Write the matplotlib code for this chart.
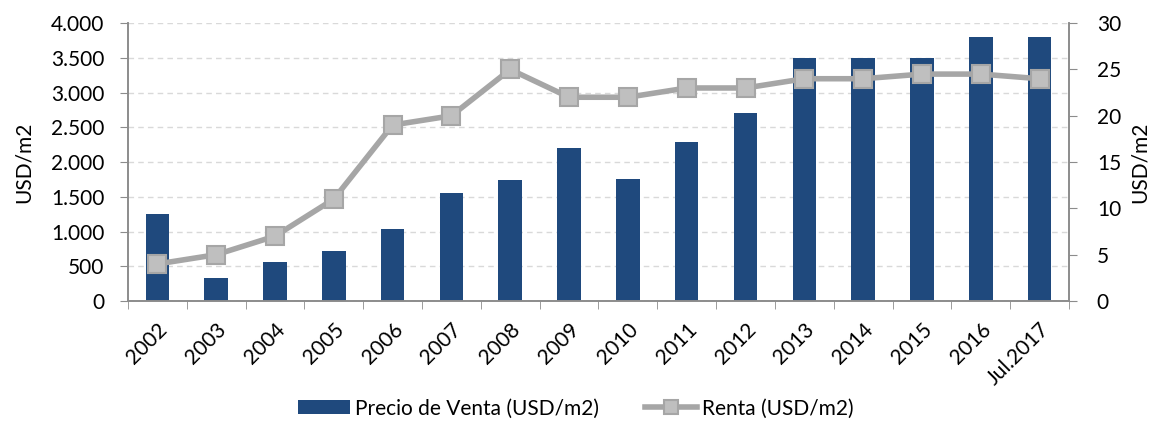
import matplotlib
matplotlib.use("Agg")
import matplotlib.pyplot as plt
from matplotlib.ticker import FuncFormatter, FixedLocator
from matplotlib.transforms import ScaledTranslation
import numpy as np

categories = ["2002", "2003", "2004", "2005", "2006", "2007", "2008", "2009",
              "2010", "2011", "2012", "2013", "2014", "2015", "2016", "Jul.2017"]
precio_venta = [1250, 330, 560, 720, 1040, 1560, 1740, 2200, 1750, 2290, 2700,
                3500, 3500, 3500, 3800, 3800]
renta = [4, 5, 7, 11, 19, 20, 25, 22, 22, 23, 23, 24, 24, 24.5, 24.5, 24]

plt.rcParams['font.family'] = ['Lato', 'DejaVu Sans']
FS = 15

fig = plt.figure(figsize=(11.52, 4.21), dpi=100)
ax = fig.add_axes([0.111, 0.285, 0.817, 0.66])
ax2 = ax.twinx()

x = np.arange(len(categories))
bar_color = "#1F497D"
ax.bar(x, precio_venta, width=0.4, color=bar_color, zorder=2,
       label="Precio de Venta (USD/m2)")
ax2.plot(x, renta, color="#A6A6A6", lw=4, marker="s", markersize=13,
         markerfacecolor="#BFBFBF", markeredgecolor="#A6A6A6", markeredgewidth=1.5,
         zorder=3, label="Renta (USD/m2)")

ax.set_xlim(-0.5, len(categories) - 0.5)
ax.set_ylim(0, 4000)
ax2.set_ylim(0, 30)
ax.set_yticks(np.arange(0, 4001, 500))
ax2.set_yticks(np.arange(0, 31, 5))
ax.yaxis.set_major_formatter(FuncFormatter(lambda v, p: f"{int(v):,}".replace(",", ".")))

ax.grid(axis="y", color="#D9D9D9", linestyle=(0, (4, 3)), lw=1, zorder=0)
ax.set_axisbelow(True)

ax.xaxis.set_major_locator(FixedLocator(x))
ax.set_xticklabels(categories, rotation=45, ha="right", rotation_mode="anchor",
                   fontsize=FS)
shift = ScaledTranslation(-4 / 72, 0, fig.dpi_scale_trans)
for lbl in ax.get_xticklabels():
    lbl.set_transform(lbl.get_transform() + shift)
ax.xaxis.set_minor_locator(FixedLocator(np.arange(-0.5, len(categories), 1)))
ax.tick_params(axis="x", which="major", length=0, pad=13)
ax.tick_params(axis="x", which="minor", length=6, color="#8C8C8C")
ax.tick_params(axis="y", length=6, color="#8C8C8C", labelsize=FS, pad=11)
ax2.tick_params(axis="y", length=6, color="#8C8C8C", labelsize=FS, pad=14)

for a in (ax, ax2):
    a.spines["top"].set_visible(False)
    for s in ("left", "right", "bottom"):
        a.spines[s].set_color("#8C8C8C")
        a.spines[s].set_linewidth(1.2)

ax.set_ylabel("USD/m2", fontsize=FS, labelpad=12)
ax2.set_ylabel("USD/m2", fontsize=FS, rotation=90, labelpad=6)

h1, l1 = ax.get_legend_handles_labels()
h2, l2 = ax2.get_legend_handles_labels()
fig.legend(h1 + h2, l1 + l2, loc="center", bbox_to_anchor=(0.5, 0.03),
           ncol=2, frameon=False, fontsize=FS, handlelength=2.5,
           handleheight=0.6, columnspacing=2.2, handletextpad=0.25,
           markerscale=0.75)

fig.savefig("out.png", dpi=100)
